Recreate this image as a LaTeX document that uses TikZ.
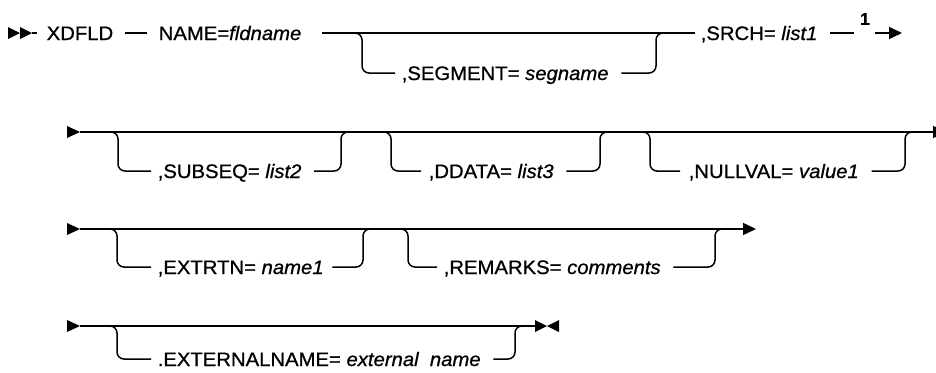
\documentclass[tikz,border=0pt]{standalone}
\usepackage{fontspec}
\setmainfont{Liberation Sans}[FakeStretch=1.04,FakeBold=0.8]
\usetikzlibrary{arrows.meta}
\begin{document}
\begin{tikzpicture}[x=1pt,y=-1pt,line width=1.5pt,
  txt/.style={inner sep=0pt,anchor=base west,font=\fontsize{19.5}{22}\selectfont},
  notefont/.style={inner sep=0pt,font=\bfseries\fontsize{17}{18}\selectfont},
  br/.style={rounded corners=7pt},
  tip/.style={-{Triangle[length=13pt,width=12pt]}}]
\useasboundingbox (0,0) rectangle (936,372);
% row reference coordinates
\coordinate (R1) at (0,33);  \coordinate (R1b) at (0,73);
\coordinate (R2) at (0,132); \coordinate (R2b) at (0,171);
\coordinate (R3) at (0,229); \coordinate (R3b) at (0,267);
\coordinate (R4) at (0,326); \coordinate (R4b) at (0,359);

% ---------------- Row 1
\fill (8,27) -- (20,33) -- (8,39) -- cycle;
\fill (20,27) -- (32,33) -- (20,39) -- cycle;
\coordinate (s1) at (32,33);
\node[txt] (xdfld) at (46,40) {XDFLD};
\node[txt] (name) at (158,40) {NAME=\textit{fldname}};
\node[txt] (seg) at (401,80) {,SEGMENT= \textit{segname}};
\node[txt] (srch) at (700,40) {,SRCH= \textit{list1}};
\node[notefont] (note) at (865,19) {1};
\coordinate (e1) at (902,33);
\draw (s1) -- ++(5,0);
\draw ([xshift=11pt]xdfld.east |- R1) -- ([xshift=-11pt]name.west |- R1);
\draw ([xshift=20pt]name.east |- R1) -- ([xshift=-5pt]srch.west |- R1);
\draw[br] ([xshift=-6pt]seg.west |- R1b) -| (362,33) -- (348,33);
\draw[br] ([xshift=12pt]seg.east |- R1b) -| (656,33) -- (670,33);
\draw ([xshift=12pt]srch.east |- R1) -- ([xshift=-5pt]note.west |- R1);
\draw[tip] ([xshift=4pt]note.east |- R1) -- (e1);

% ---------------- Row 2
\fill (67,126) -- (80,132) -- (67,138) -- cycle;
\coordinate (s2) at (80,132); \coordinate (e2) at (946,132);
\draw[tip] (s2) -- (e2);
\node[txt] (subseq) at (157,178) {,SUBSEQ= \textit{list2}};
\draw[br] ([xshift=-6pt]subseq.west |- R2b) -| (118,132) -- (104,132);
\draw[br] ([xshift=12pt]subseq.east |- R2b) -| (341,132) -- (355,132);
\node[txt] (ddata) at (428,178) {,DDATA= \textit{list3}};
\draw[br] ([xshift=-7pt]ddata.west |- R2b) -| (391,132) -- (377,132);
\draw[br] ([xshift=12pt]ddata.east |- R2b) -| (600,132) -- (614,132);
\node[txt] (nullval) at (688,178) {,NULLVAL= \textit{value1}};
\draw[br] ([xshift=-8pt]nullval.west |- R2b) -| (650,132) -- (636,132);
\draw[br] ([xshift=12pt]nullval.east |- R2b) -| (905,132) -- (919,132);

% ---------------- Row 3
\fill (67,223) -- (80,229) -- (67,235) -- cycle;
\coordinate (s3) at (80,229); \coordinate (e3) at (756,229);
\draw[tip] (s3) -- (e3);
\node[txt] (extrtn) at (157,274) {,EXTRTN= \textit{name1}};
\draw[br] ([xshift=-6pt]extrtn.west |- R3b) -| (117,229) -- (103,229);
\draw[br] ([xshift=8pt]extrtn.east |- R3b) -| (363,229) -- (377,229);
\node[txt] (remarks) at (443,274) {,REMARKS= \textit{comments}};
\draw[br] ([xshift=-6pt]remarks.west |- R3b) -| (408,229) -- (394,229);
\draw[br] ([xshift=12pt]remarks.east |- R3b) -| (715,229) -- (729,229);

% ---------------- Row 4
\fill (67,320) -- (80,326) -- (67,332) -- cycle;
\coordinate (s4) at (80,326); \coordinate (e4) at (535,326);
\draw (s4) -- (e4);
\node[txt] (extname) at (157,366) {.EXTERNALNAME= \textit{external\ \ name}};
\draw[br] ([xshift=-6pt]extname.west |- R4b) -| (117,326) -- (103,326);
\draw[br] ([xshift=12pt]extname.east |- R4b) -| (515,326) -- (529,326);
\fill (e4) ++(0,-6) -- ++(12,6) -- ++(-12,6) -- cycle;
\fill (e4) ++(24,-6) -- ++(-12,6) -- ++(12,6) -- cycle;
\end{tikzpicture}
\end{document}
